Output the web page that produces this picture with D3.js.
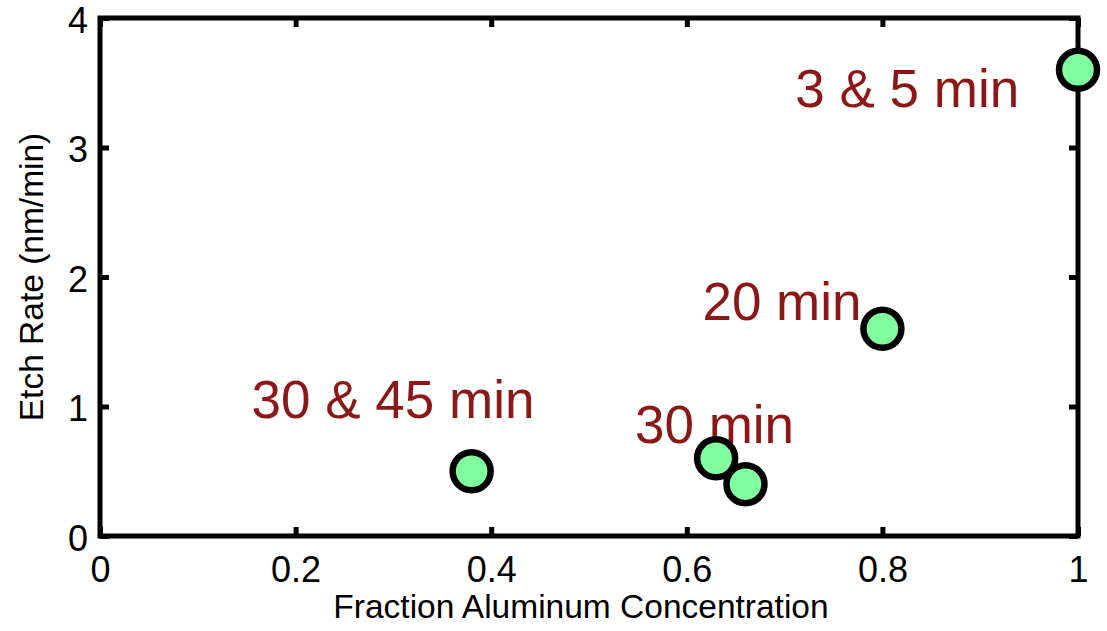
<!DOCTYPE html>
<html>
<head>
<meta charset="utf-8">
<script src="https://cdn.jsdelivr.net/npm/d3@7"></script>
<style>
  body { margin: 0; background: #fff; }
  svg { display: block; font-family: "Liberation Sans", Arial, Helvetica, sans-serif; }
</style>
</head>
<body>
<svg id="chart"></svg>
<script>
// etch rate vs aluminum fraction, one marker per sample
var alFraction = [0.38, 0.63, 0.66, 0.8, 1.0];
var etchRate   = [0.5, 0.6, 0.4, 1.6, 3.6];

// annotation text and where it sits (data units, left/baseline)
var noteText = ["30 & 45 min", "30 min", "20 min", "3 & 5 min"];
var noteX    = [0.155, 0.547, 0.616, 0.711];
var noteY    = [0.91, 0.72, 1.67, 3.31];

var xTicks = [0, 0.2, 0.4, 0.6, 0.8, 1];
var xTickLabels = ["0", "0.2", "0.4", "0.6", "0.8", "1"];
var yTicks = [0, 1, 2, 3, 4];
var yTickLabels = ["0", "1", "2", "3", "4"];

var width = 1107, height = 631;
// note: "top" is taken by window.top, so prefix these
var plotLeft = 100, plotRight = 1078, plotTop = 18, plotBottom = 536;

var svg = d3.select("#chart")
    .attr("width", width)
    .attr("height", height);

var x = d3.scaleLinear().domain([0, 1]).range([plotLeft, plotRight]);
var y = d3.scaleLinear().domain([0, 4]).range([plotBottom, plotTop]);

function styleAxis(g) {
    g.select(".domain").remove();
    g.selectAll(".tick line").attr("stroke", "#000").attr("stroke-width", 5);
    g.selectAll(".tick text").attr("fill", "#000").attr("font-size", "36px");
}

// bottom + left carry the numbers, top + right only ticks
svg.append("g")
    .attr("transform", "translate(0," + plotBottom + ")")
    .call(d3.axisBottom(x).tickValues(xTicks)
        .tickFormat(function(d, i) { return xTickLabels[i]; })
        .tickSize(-9).tickPadding(20))
    .call(styleAxis);

svg.append("g")
    .attr("transform", "translate(" + plotLeft + ",0)")
    .call(d3.axisLeft(y).tickValues(yTicks)
        .tickFormat(function(d, i) { return yTickLabels[i]; })
        .tickSize(-9).tickPadding(12))
    .call(styleAxis)
    .selectAll(".tick text").attr("dy", "0.4em");

svg.append("g")
    .attr("transform", "translate(0," + plotTop + ")")
    .call(d3.axisTop(x).tickValues(xTicks).tickFormat("").tickSize(-9))
    .call(styleAxis);

svg.append("g")
    .attr("transform", "translate(" + plotRight + ",0)")
    .call(d3.axisRight(y).tickValues(yTicks).tickFormat("").tickSize(-9))
    .call(styleAxis);

// box
svg.append("rect")
    .attr("x", plotLeft).attr("y", plotTop)
    .attr("width", plotRight - plotLeft).attr("height", plotBottom - plotTop)
    .attr("fill", "none")
    .attr("stroke", "#000")
    .attr("stroke-width", 5);

// axis titles
svg.append("text")
    .attr("x", 581).attr("y", 618)
    .attr("text-anchor", "middle")
    .attr("font-size", "33.5px")
    .text("Fraction Aluminum Concentration");

svg.append("text")
    .attr("transform", "translate(43," + ((plotTop + plotBottom) / 2) + ") rotate(-90)")
    .attr("text-anchor", "middle")
    .attr("font-size", "33.5px")
    .text("Etch Rate (nm/min)");

// annotations
svg.selectAll("text.note").data(noteText).enter().append("text")
    .attr("class", "note")
    .attr("x", function(d, i) { return x(noteX[i]); })
    .attr("y", function(d, i) { return y(noteY[i]); })
    .attr("font-size", "53px")
    .attr("fill", "#8c1717")
    .text(function(d) { return d; });

// markers on top of everything
svg.selectAll("circle").data(alFraction).enter().append("circle")
    .attr("cx", function(d) { return x(d); })
    .attr("cy", function(d, i) { return y(etchRate[i]); })
    .attr("r", 19)
    .attr("fill", "#80ff9f")
    .attr("stroke", "#000")
    .attr("stroke-width", 6.5);
</script>
</body>
</html>
